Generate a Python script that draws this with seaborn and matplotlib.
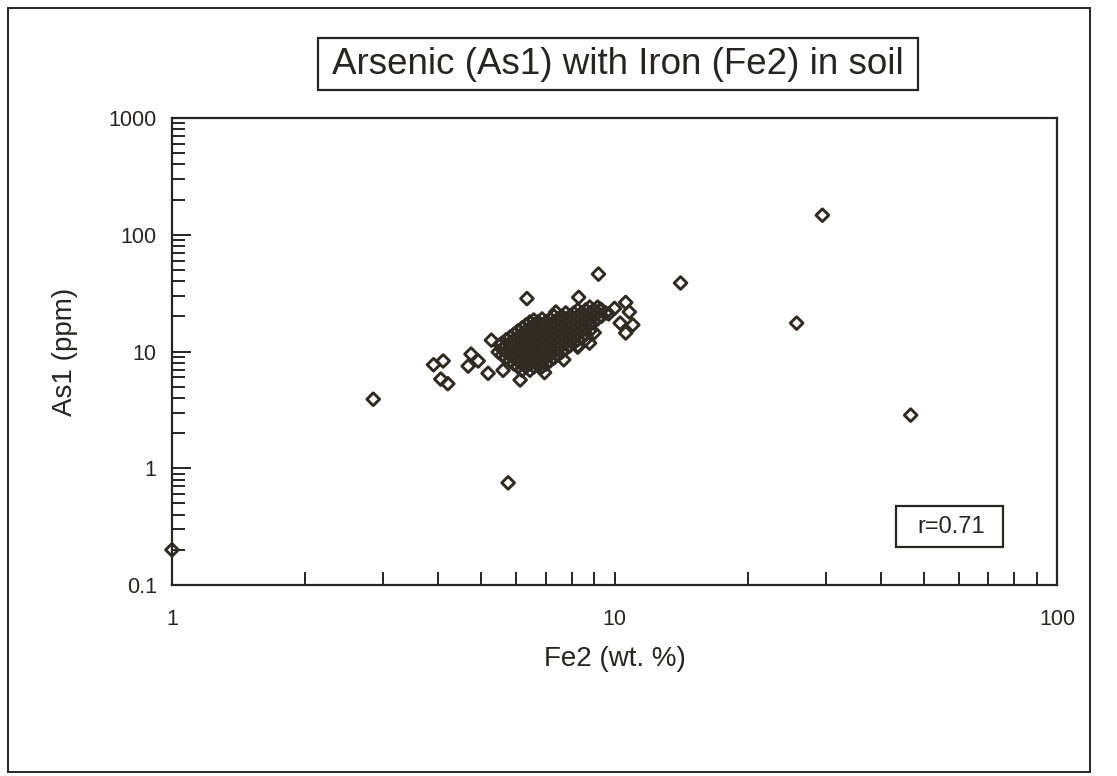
import matplotlib
matplotlib.use("Agg")
import matplotlib.pyplot as plt
from matplotlib.patches import Rectangle
from matplotlib.ticker import FixedLocator, FuncFormatter, NullFormatter
import pandas as pd
import seaborn as sns

# ---------------- data ----------------
fe_outliers = [1.0, 2.85, 5.75, 29.5, 25.8, 46.7, 14.1, 9.2]
as_outliers = [0.2, 3.9, 0.75, 147, 17.5, 2.85, 38.6, 46]

fe_edge = [3.9, 4.1, 4.05, 4.2, 4.74, 4.92, 4.67, 5.18, 5.27, 5.51, 5.60, 6.12,
           6.95, 7.68, 8.26, 8.57, 8.80, 9.00, 8.78, 6.34, 8.30, 7.37, 10.6,
           10.8, 10.0, 10.3, 11.0, 10.6, 6.57, 9.3, 9.7]
as_edge = [7.7, 8.3, 5.8, 5.3, 9.5, 8.3, 7.5, 6.5, 12.5, 11.4, 6.9, 5.7,
           6.6, 8.5, 10.9, 12.5, 17.5, 14.5, 11.8, 28.4, 29.1, 21.8, 26.3,
           21.8, 23.4, 17.5, 16.9, 14.4, 18.6, 23.0, 21.0]

# dense core of the cloud: As level of each band, and the Fe values read in it
core_as_levels = [24.0, 22.7, 21.4, 20.1, 19.0, 17.9, 16.9, 15.9, 15.0, 14.1,
                  13.3, 12.6, 11.8, 11.2, 10.5, 9.9, 9.3, 8.8, 8.3, 7.8, 7.4, 6.9]
core_fe_rows = [
    [8.79, 9.16],
    [8.26, 8.61, 8.97, 9.35],
    [7.76, 8.09, 8.43, 8.79, 9.16, 9.55],
    [7.30, 7.60, 7.93, 8.26, 8.61, 8.97, 9.35],
    [6.86, 7.15, 7.45, 7.76, 8.09, 8.43, 8.79, 9.16],
    [6.44, 6.72, 7.00, 7.30, 7.60, 7.93, 8.26, 8.61, 8.97],
    [6.31, 6.58, 6.86, 7.15, 7.45, 7.76, 8.09, 8.43, 8.79],
    [6.18, 6.44, 6.72, 7.00, 7.30, 7.60, 7.93, 8.26, 8.61],
    [6.05, 6.31, 6.58, 6.86, 7.15, 7.45, 7.76, 8.09, 8.43, 8.79],
    [5.93, 6.18, 6.44, 6.72, 7.00, 7.30, 7.60, 7.93, 8.26, 8.61],
    [5.81, 6.05, 6.31, 6.58, 6.86, 7.15, 7.45, 7.76, 8.09, 8.43],
    [5.69, 5.93, 6.18, 6.44, 6.72, 7.00, 7.30, 7.60, 7.93, 8.26],
    [5.57, 5.81, 6.05, 6.31, 6.58, 6.86, 7.15, 7.45, 7.76, 8.09],
    [5.69, 5.93, 6.18, 6.44, 6.72, 7.00, 7.30, 7.60, 7.93, 8.26],
    [5.57, 5.81, 6.05, 6.31, 6.58, 6.86, 7.15, 7.45, 7.76],
    [5.46, 5.69, 5.93, 6.18, 6.44, 6.72, 7.00, 7.30, 7.60],
    [5.57, 5.81, 6.05, 6.31, 6.58, 6.86, 7.15, 7.45],
    [5.69, 5.93, 6.18, 6.44, 6.72, 7.00, 7.30],
    [5.81, 6.05, 6.31, 6.58, 6.86, 7.15],
    [5.93, 6.18, 6.44, 6.72, 7.00],
    [6.05, 6.31, 6.58, 6.86],
    [6.18, 6.44],
]

title = "Arsenic (As1) with Iron (Fe2) in soil"
x_label = "Fe2 (wt. %)"
y_label = "As1 (ppm)"
r_text = "r=0.71"
x_ticks = [1, 10, 100]
y_ticks = [0.1, 1, 10, 100, 1000]

fe_core = [fe for row in core_fe_rows for fe in row]
as_core = [lvl for lvl, row in zip(core_as_levels, core_fe_rows) for _ in row]

df = pd.DataFrame({
    "Fe2": fe_outliers + fe_edge + fe_core,
    "As1": as_outliers + as_edge + as_core,
})

# ---------------- style ----------------
sns.set_style("white")
plt.rcParams["font.family"] = ["Liberation Sans", "DejaVu Sans"]
ink = "#262524"
mark_ink = "#2f2b22"

W, H = 1117, 776
fig = plt.figure(figsize=(W / 100, H / 100), dpi=100)
fig.patch.set_facecolor("white")

ax = fig.add_axes([172 / W, 1 - 585 / H, (1057 - 172) / W, (585 - 118) / H])

sns.scatterplot(data=df, x="Fe2", y="As1", ax=ax, marker="D", s=42,
                color="none", edgecolor=mark_ink, linewidth=2.1, legend=False,
                clip_on=False, zorder=3)

ax.set_xscale("log")
ax.set_yscale("log")
ax.set_xlim(1, 100)
ax.set_ylim(0.1, 1000)

ax.xaxis.set_major_locator(FixedLocator(x_ticks))
ax.yaxis.set_major_locator(FixedLocator(y_ticks))
minor_x = [m * d for d in (1, 10) for m in range(2, 10)]
minor_y = [m * d for d in (0.1, 1, 10, 100) for m in range(2, 10)]
ax.xaxis.set_minor_locator(FixedLocator(minor_x))
ax.yaxis.set_minor_locator(FixedLocator(minor_y))
fmt = FuncFormatter(lambda v, p: f"{v:g}")
ax.xaxis.set_major_formatter(fmt)
ax.yaxis.set_major_formatter(fmt)
ax.xaxis.set_minor_formatter(NullFormatter())
ax.yaxis.set_minor_formatter(NullFormatter())

ax.tick_params(axis="x", which="both", direction="in", length=9.5, width=1.4,
               color=ink, labelsize=15.5, labelcolor=ink, pad=17,
               bottom=True, top=False)
ax.tick_params(axis="y", which="major", direction="in", length=14, width=1.4,
               color=ink, labelsize=15.5, labelcolor=ink, pad=11,
               left=True, right=False)
ax.tick_params(axis="y", which="minor", direction="in", length=9, width=1.4,
               color=ink, left=True, right=False)

for sp in ax.spines.values():
    sp.set_visible(True)
    sp.set_color(ink)
    sp.set_linewidth(1.6)

ax.set_xlabel(x_label, fontsize=20, color=ink, labelpad=12)
ax.set_ylabel(y_label, fontsize=20, color=ink, labelpad=22)

# title box
fig.patches.append(Rectangle((318 / W, 1 - 90 / H), 600 / W, 52 / H,
                             transform=fig.transFigure, fill=False,
                             edgecolor=ink, linewidth=1.6))
fig.text(618 / W, 1 - 64 / H, title, ha="center", va="center",
         fontsize=26.5, color=ink)

# r box
fig.patches.append(Rectangle((896 / W, 1 - 547 / H), 107 / W, 41 / H,
                             transform=fig.transFigure, fill=False,
                             edgecolor=ink, linewidth=1.6))
fig.text(951 / W, 1 - 527 / H, r_text, ha="center", va="center",
         fontsize=17, color=ink)

# outer page frame
fig.patches.append(Rectangle((8 / W, 1 - 772 / H), 1082 / W, 764 / H,
                             transform=fig.transFigure, fill=False,
                             edgecolor=ink, linewidth=1.4))

fig.savefig("out.png", dpi=100, facecolor="white")
